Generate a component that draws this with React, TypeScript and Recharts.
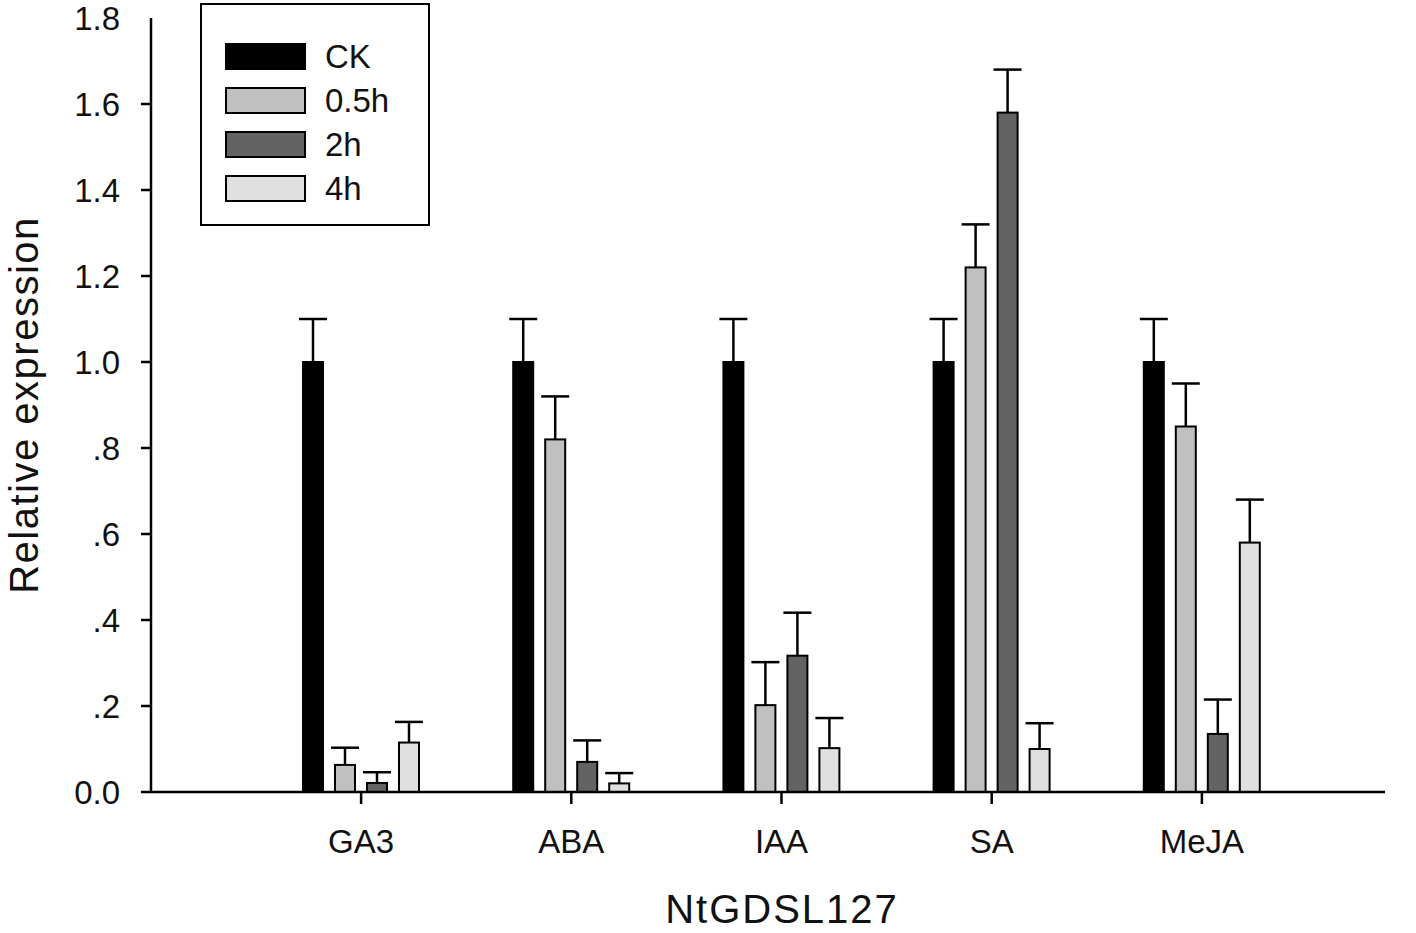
import React from 'react'
import { BarChart, Bar, XAxis, YAxis, Legend } from 'recharts'

const categories = ['GA3', 'ABA', 'IAA', 'SA', 'MeJA']

const ck = [1.0, 1.0, 1.0, 1.0, 1.0]
const ckErr = [0.1, 0.1, 0.1, 0.1, 0.1]
const h05 = [0.063, 0.82, 0.202, 1.22, 0.85]
const h05Err = [0.04, 0.1, 0.1, 0.1, 0.1]
const h2 = [0.021, 0.07, 0.317, 1.58, 0.135]
const h2Err = [0.025, 0.05, 0.1, 0.1, 0.08]
const h4 = [0.115, 0.02, 0.102, 0.1, 0.58]
const h4Err = [0.048, 0.024, 0.07, 0.06, 0.1]

const yTicks = [0, 0.2, 0.4, 0.6, 0.8, 1.0, 1.2, 1.4, 1.6, 1.8]

const series = [
  { key: 'ck', name: 'CK', fill: '#000000' },
  { key: 'h05', name: '0.5h', fill: '#c0c0c0' },
  { key: 'h2', name: '2h', fill: '#636363' },
  { key: 'h4', name: '4h', fill: '#e0e0e0' },
]

const data = categories.map((name, i) => ({
  name,
  ck: ck[i],
  ckErr: ckErr[i],
  h05: h05[i],
  h05Err: h05Err[i],
  h2: h2[i],
  h2Err: h2Err[i],
  h4: h4[i],
  h4Err: h4Err[i],
}))

const FONT = '"Liberation Sans", Arial, sans-serif'

const fmtY = (v: number) => (v === 0 ? '0.0' : v < 1 ? v.toFixed(1).slice(1) : v.toFixed(1))

// bar with only the upper error whisker, scaled from the bar's own height
const barWithErr = (key: string) => (props: any) => {
  const { x, y, width, height, fill, payload } = props
  const v = payload[key]
  const err = payload[key + 'Err']
  const errPx = v > 0 ? (err * height) / v : 0
  const cx = x + width / 2
  const top = y - errPx
  return (
    <g>
      <line x1={cx} y1={y} x2={cx} y2={top} stroke="#000" strokeWidth={2.5} />
      <line x1={cx - 14} y1={top} x2={cx + 14} y2={top} stroke="#000" strokeWidth={2.5} />
      <rect x={x} y={y} width={width} height={height} fill={fill} stroke="#000" strokeWidth={2} />
    </g>
  )
}

const YTick = (props: any) => {
  const { x, y, payload } = props
  return (
    <g>
      {payload.value < 1.8 && <line x1={x + 21} y1={y} x2={x + 31} y2={y} stroke="#000" strokeWidth={2.5} />}
      <text x={x} y={y} dy="0.36em" textAnchor="end" fontSize={33} fontFamily={FONT} fill="#111">
        {fmtY(payload.value)}
      </text>
    </g>
  )
}

const LegendBox = () => (
  <div
    style={{
      width: 230,
      height: 223,
      border: '2.5px solid #000',
      boxSizing: 'border-box',
      background: '#fff',
      paddingTop: 29,
      paddingLeft: 23,
      fontFamily: FONT,
    }}
  >
    {series.map((s) => (
      <div key={s.key} style={{ display: 'flex', alignItems: 'center', height: 44 }}>
        <div style={{ width: 81, height: 27, background: s.fill, border: '2px solid #000', boxSizing: 'border-box' }} />
        <span style={{ marginLeft: 19, fontSize: 33, color: '#111', lineHeight: '33px' }}>{s.name}</span>
      </div>
    ))}
  </div>
)

export default function App() {
  return (
    <div style={{ width: 1416, height: 933, background: '#fff' }}>
      <style>{'body{margin:0}'}</style>
      <BarChart
        width={1416}
        height={933}
        data={data}
        margin={{ top: 18, right: 31, bottom: 0, left: 0 }}
        barSize={20}
        barGap={12}
      >
        <XAxis
          dataKey="name"
          height={141}
          padding={{ left: 105, right: 78 }}
          axisLine={{ stroke: '#000', strokeWidth: 2.5 }}
          tickLine={{ stroke: '#000', strokeWidth: 2.5 }}
          tickSize={12}
          tickMargin={26}
          tick={{ fontSize: 33, fontFamily: FONT, fill: '#111' }}
          label={{
            value: 'NtGDSL127',
            position: 'insideBottom',
            offset: 10,
            dx: 14,
            style: { fontSize: 40, fontFamily: FONT, fill: '#111', letterSpacing: 2 },
          }}
        />
        <YAxis
          type="number"
          domain={[0, 1.8]}
          ticks={yTicks}
          width={151}
          axisLine={{ stroke: '#000', strokeWidth: 2.5 }}
          tickLine={false}
          tickSize={10}
          tickMargin={21}
          tick={<YTick />}
          label={{
            value: 'Relative expression',
            angle: -90,
            position: 'insideLeft',
            offset: 24,
            style: { textAnchor: 'middle', fontSize: 40, fontFamily: FONT, fill: '#111', letterSpacing: 1.5 },
          }}
        />
        <Legend
          layout="vertical"
          align="center"
          verticalAlign="middle"
          content={<LegendBox />}
          wrapperStyle={{ position: 'absolute', left: 200, top: 3, width: 230, height: 223 }}
        />
        {series.map((s) => (
          <Bar
            key={s.key}
            dataKey={s.key}
            name={s.name}
            fill={s.fill}
            isAnimationActive={false}
            shape={barWithErr(s.key)}
          />
        ))}
      </BarChart>
    </div>
  )
}
